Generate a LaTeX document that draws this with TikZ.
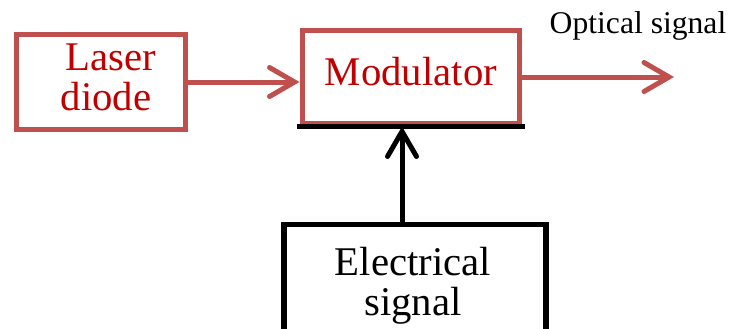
\documentclass[tikz,border=0pt]{standalone}
\usepackage{fontspec}
\setmainfont{Liberation Serif}
\usepackage{xcolor}
\usetikzlibrary{positioning,arrows.meta}
\definecolor{boxred}{HTML}{C0504D}
\definecolor{textred}{HTML}{C00000}

\begin{document}
\begin{tikzpicture}[x=0.02cm,y=-0.02cm,
  redbox/.style={draw=boxred,line width=0.1cm,inner sep=0pt},
  blackbox/.style={draw=black,line width=0.11cm,inner sep=0pt},
  redtext/.style={text=textred,align=center,anchor=base,font=\fontsize{23.2}{22.2}\selectfont},
  tip/.style={-{Straight Barb[length=0.5cm,width=0.58cm,line cap=round]},line width=0.1cm}]
\useasboundingbox (0,0) rectangle (729,328);
\node[redbox,minimum width=3.4cm,minimum height=1.92cm] (laser) at (101,82) {};
\node[redtext] (lasertext) at (106,110) {\hspace*{0.2cm}Laser\\diode};
\node[redbox,minimum width=4.36cm,minimum height=1.88cm] (mod) at (411,77) {};
\node[redtext] (modtext) at (411,85) {Modulator};
\draw[line width=0.11cm,line cap=rect] (mod.south west)--(mod.south east);
\node[blackbox,minimum width=5.24cm,minimum height=2.3cm] (elec) at (415,282) {};
\node[align=center,anchor=base,font=\fontsize{23.2}{22.6}\selectfont] (electext) at (413,315) {Electrical\\signal};
\node[anchor=base,font=\fontsize{18}{18}\selectfont] (optical) at (638,33) {Optical signal};
\coordinate (out) at (674,77);
\draw[tip,boxred] (laser.east)--(laser.east -| mod.west);
\draw[tip,boxred] (mod.east)--(out);
\draw[tip,black] ([xshift=-0.26cm]elec.north)--([xshift=-0.26cm]elec.north |- mod.south);
\end{tikzpicture}
\end{document}
